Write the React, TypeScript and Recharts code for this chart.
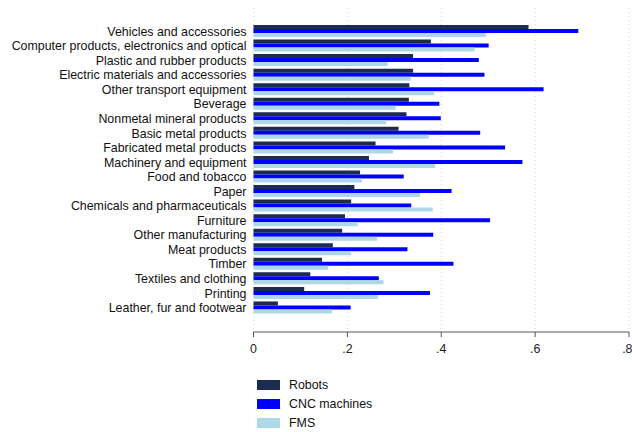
import React from "react";
import {
  BarChart,
  Bar,
  XAxis,
  YAxis,
  CartesianGrid,
  Legend,
} from "recharts";

const INDUSTRIES = [
  "Vehicles and accessories",
  "Computer products, electronics and optical",
  "Plastic and rubber products",
  "Electric materials and accessories",
  "Other transport equipment",
  "Beverage",
  "Nonmetal mineral products",
  "Basic metal products",
  "Fabricated metal products",
  "Machinery and equipment",
  "Food and tobacco",
  "Paper",
  "Chemicals and pharmaceuticals",
  "Furniture",
  "Other manufacturing",
  "Meat products",
  "Timber",
  "Textiles and clothing",
  "Printing",
  "Leather, fur and footwear",
];

const ROBOTS = [
  0.586, 0.378, 0.34, 0.34, 0.332, 0.331, 0.326, 0.309, 0.26, 0.246,
  0.227, 0.215, 0.208, 0.195, 0.189, 0.169, 0.146, 0.121, 0.108, 0.052,
];

const CNC = [
  0.692, 0.501, 0.48, 0.492, 0.618, 0.396, 0.399, 0.483, 0.536, 0.573,
  0.32, 0.422, 0.336, 0.504, 0.383, 0.328, 0.426, 0.267, 0.376, 0.207,
];

const FMS = [
  0.495, 0.471, 0.286, 0.335, 0.385, 0.303, 0.283, 0.373, 0.297, 0.387,
  0.231, 0.355, 0.382, 0.222, 0.263, 0.208, 0.159, 0.277, 0.265, 0.167,
];

const X_TICKS = [0, 0.2, 0.4, 0.6, 0.8];

const SERIES = [
  { key: "robots", name: "Robots", color: "#1c2b50" },
  { key: "cnc", name: "CNC machines", color: "#0000ff" },
  { key: "fms", name: "FMS", color: "#add8e6" },
];

const chartData = INDUSTRIES.map((name, i) => ({
  name,
  robots: ROBOTS[i],
  cnc: CNC[i],
  fms: FMS[i],
}));

const FONT = "'Liberation Sans', Arial, sans-serif";

const fmtTick = (v: number) => (v === 0 ? "0" : v.toFixed(1).replace(/^0/, ""));

// single-line label, recharts' default tick wraps the long one
const IndustryTick = (props: any) => {
  const { x, y, payload } = props;
  return (
    <text
      x={x}
      y={y}
      dy="0.355em"
      textAnchor="end"
      fill="#111"
      fontSize={12.4}
      fontFamily={FONT}
    >
      {payload.value}
    </text>
  );
};

const LegendBox = () => (
  <div style={{ fontFamily: FONT, fontSize: 12.4, color: "#111" }}>
    {SERIES.map((s) => (
      <div key={s.key} style={{ display: "flex", alignItems: "center", height: 19 }}>
        <span
          style={{
            display: "inline-block",
            width: 23,
            height: 10,
            background: s.color,
            marginRight: 9,
          }}
        />
        <span>{s.name}</span>
      </div>
    ))}
  </div>
);

export default function App() {
  return (
    <div style={{ position: "absolute", left: 0, top: 0, width: 632, height: 432, background: "#fff" }}>
      <BarChart
        width={632}
        height={432}
        data={chartData}
        layout="vertical"
        margin={{ top: 8, right: 3, bottom: 70, left: 0 }}
        barCategoryGap={1}
        barGap={0}
        style={{ fontFamily: FONT }}
      >
        <CartesianGrid
          horizontal={false}
          stroke="#d4d4d4"
          strokeDasharray="1 3"
        />
        <XAxis
          type="number"
          domain={[0, 0.8]}
          ticks={X_TICKS}
          tickFormatter={fmtTick}
          height={30}
          tickSize={5}
          tickMargin={7}
          stroke="#555"
          tick={{ fill: "#222", fontSize: 12.4 }}
        />
        <YAxis
          type="category"
          dataKey="name"
          width={253.5}
          padding={{ top: 16, bottom: 17 }}
          axisLine={false}
          tickLine={false}
          tickSize={0}
          tickMargin={7}
          interval={0}
          tick={<IndustryTick />}
        />
        <Legend
          layout="vertical"
          verticalAlign="middle"
          align="center"
          content={<LegendBox />}
          wrapperStyle={{ left: 257, top: 375, width: 200, height: 60 }}
        />
        {SERIES.map((s) => (
          <Bar
            key={s.key}
            dataKey={s.key}
            name={s.name}
            fill={s.color}
            isAnimationActive={false}
          />
        ))}
      </BarChart>
    </div>
  );
}
